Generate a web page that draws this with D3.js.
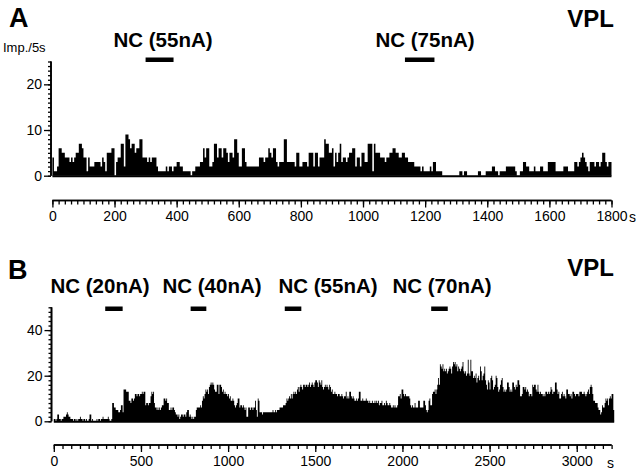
<!DOCTYPE html>
<html><head><meta charset="utf-8">
<script src="https://cdn.jsdelivr.net/npm/d3@7"></script>
<style>
html,body{margin:0;padding:0;background:#fff;}
svg{display:block;font-family:"Liberation Sans",Arial,sans-serif;}
</style></head>
<body><svg id="c" width="640" height="470"></svg>
<script>
// ---------- DATA ----------
const binA = 5;   // s per bin
const binB = 5;
// Panel A: impulses / 5 s, 0-1800 s (rows of 100 s)
const countsA = [
 4,1,1,2,6,6,5,5,4,4,4,3,4,3,4,5,5,7,7,6,
 4,4,1,4,2,2,2,3,3,3,3,2,4,3,1,5,5,5,6,6,
 0,3,4,4,7,7,2,9,9,8,6,7,7,5,6,6,8,8,4,4,
 4,3,4,3,4,4,4,2,1,1,1,1,1,2,1,2,2,1,2,2,
 3,3,2,2,1,1,1,1,1,0,1,1,2,2,2,3,3,6,4,6,
 6,2,2,3,7,7,4,6,6,4,6,6,5,3,5,5,4,8,8,5,
 2,2,6,6,3,2,2,2,2,2,2,2,2,4,4,4,3,4,4,6,
 5,4,6,6,3,2,3,3,3,8,8,3,3,3,3,3,2,5,5,2,
 2,3,3,3,2,5,5,5,2,5,5,2,4,4,4,8,7,7,5,5,
 6,2,5,3,5,7,3,4,4,3,4,5,5,6,6,2,4,4,2,5,
 5,3,3,7,7,7,1,7,5,5,5,4,4,4,3,4,4,5,5,6,
 6,5,5,4,4,5,5,4,4,3,3,3,3,2,2,2,2,1,2,1,
 1,1,1,2,1,3,3,1,1,1,1,0,0,0,0,0,0,0,0,0,
 0,0,1,1,0,1,1,0,0,0,0,0,0,0,1,1,0,0,0,1,
 1,1,1,2,2,1,1,0,1,1,1,1,2,2,2,2,2,2,1,0,
 0,1,1,3,3,2,2,1,1,1,2,1,1,1,2,2,1,1,1,3,
 3,3,3,3,1,1,1,1,1,2,2,2,1,1,1,1,3,3,2,3,
 4,5,4,3,2,1,3,3,3,2,3,3,2,3,5,5,3,2,3,3
];
// Panel B: impulses / 5 s, 0-3215 s (rows of 100 s)
const countsB = [
 1,1,0,1,3,3,1,1,0,1,1,2,2,2,3,4,3,2,2,1,
 1,1,0,1,1,0,1,0,1,1,2,1,1,0,1,1,0,1,0,0,
 1,3,3,0,1,0,0,0,0,1,0,1,1,0,1,1,2,1,1,1,
 1,1,2,1,0,0,1,8,8,6,6,5,5,5,4,4,5,7,7,4,
 14,14,14,13,13,13,9,9,8,10,10,9,10,12,12,11,12,12,11,12,
 12,13,12,13,13,7,8,8,7,8,8,11,13,12,13,8,6,6,5,6,
 5,6,5,6,7,7,10,10,9,10,8,8,5,5,6,5,6,6,5,4,
 3,3,2,3,1,2,3,3,2,3,3,2,4,5,5,2,3,2,1,2,
 1,2,2,5,6,6,6,6,7,6,9,11,10,12,14,13,14,12,15,16,
 17,16,17,16,14,13,13,16,16,12,16,16,15,13,14,12,13,12,12,11,
 12,10,11,9,9,10,9,7,6,7,8,10,10,6,7,7,6,7,6,5,
 6,2,2,6,6,5,6,6,5,6,6,9,5,2,10,9,4,4,4,3,
 4,4,4,4,4,4,4,4,4,4,4,5,4,4,5,4,5,5,5,6,
 6,6,6,7,7,7,8,10,9,10,11,10,12,10,12,13,12,13,12,14,
 15,13,15,16,15,14,16,16,15,16,16,15,16,17,15,16,17,16,15,17,
 18,18,17,15,18,17,16,18,15,14,15,16,15,16,15,14,16,15,13,14,
 12,12,13,12,12,11,12,12,11,11,12,11,10,11,11,13,10,11,10,13,
 13,11,10,11,10,9,9,10,9,10,13,13,9,9,10,9,9,9,10,9,
 9,8,9,8,8,9,8,8,9,8,9,8,9,7,8,8,9,7,7,8,
 7,9,8,7,7,8,7,6,6,7,6,7,6,6,7,11,11,12,10,14,
 14,12,11,12,11,11,11,11,10,7,6,7,6,6,8,6,6,6,9,9,
 6,6,6,6,9,9,7,5,4,5,9,10,7,7,12,13,13,14,12,14,
 16,19,16,25,24,23,25,22,23,22,23,21,22,23,24,23,21,24,26,25,
 26,24,25,22,24,23,22,23,24,26,22,21,22,20,21,27,21,20,27,22,
 22,19,20,19,21,17,19,20,18,24,22,18,20,21,24,18,16,14,18,17,
 14,19,20,18,14,15,16,20,19,15,13,14,16,18,19,15,13,14,13,14,
 17,17,15,13,14,13,17,17,15,14,16,15,18,18,16,11,11,12,15,15,
 14,15,13,14,13,11,12,12,11,16,15,16,16,14,13,16,13,12,13,12,
 12,11,12,11,13,13,12,13,12,13,15,14,12,13,13,17,17,14,12,13,
 10,10,12,13,11,12,11,10,14,14,12,12,11,12,10,13,13,12,11,12,
 12,12,11,13,13,13,12,12,13,12,11,12,13,14,12,15,16,15,12,9,
 9,8,8,8,6,5,5,3,4,7,6,6,8,10,9,10,7,10,11,10,
 12,12,5
];
// Drug application periods (s)
const ncLabelsA = ["NC (55nA)", "NC (75nA)"];
const ncStartA = [300, 1135];
const ncEndA   = [390, 1230];
const ncLabelsB = ["NC (20nA)", "NC (40nA)", "NC (55nA)", "NC (70nA)"];
const ncStartB = [295, 785, 1325, 2165];
const ncEndB   = [395, 875, 1420, 2260];
// Axis ticks
const xMajorA = [0,200,400,600,800,1000,1200,1400,1600,1800];
const yMajorA = [0,10,20];
const xMajorB = [0,500,1000,1500,2000,2500,3000];
const yMajorB = [0,20,40];

// ---------- DRAW ----------
const svg = d3.select("#c");
const FONT = "'Liberation Sans', Arial, sans-serif";

function panel(o){
  const g = svg.append("g");
  const x = d3.scaleLinear().domain(o.xDom).range(o.xRange);
  const y = d3.scaleLinear().domain(o.yDom).range(o.yRange);
  // histogram bars as one stepped area (bins of o.bin seconds)
  const pts = o.counts.map((d,i)=>({t:i*o.bin, v:d}));
  pts.push({t:o.counts.length*o.bin, v:o.counts[o.counts.length-1]});
  const area = d3.area().curve(d3.curveStepAfter)
    .x(d=>x(d.t)).y0(y(0)).y1(d=>y(d.v));
  g.append("path").datum(pts).attr("d",area).attr("fill","#000").attr("stroke","none");
  // baseline
  g.append("line").attr("x1", x(0)).attr("x2", x(o.counts.length*o.bin))
    .attr("y1", y(0)+0.5).attr("y2", y(0)+0.5).attr("stroke","#000").attr("stroke-width",2);
  // y axis
  const yMinor = d3.range(o.yDom[0], o.yDom[1]+0.001, o.yMinorStep);
  const ya = g.append("g").attr("transform",`translate(${o.yAxisX},0)`);
  ya.call(d3.axisLeft(y).tickValues(yMinor).tickSize(3).tickFormat(""));
  ya.call(g2=>g2.append("g").call(d3.axisLeft(y).tickValues(o.yMajor).tickSize(7).tickPadding(2).tickFormat(d3.format("d"))));
  ya.selectAll("path").attr("stroke","#000").attr("stroke-width",1.6);
  ya.selectAll("line").attr("stroke","#000").attr("stroke-width",1.3);
  ya.selectAll("text").attr("font-family",FONT).attr("font-size",14).attr("fill","#000");
  ya.selectAll(".domain").attr("d", `M-0,${o.yRange[0]}V${o.yRange[1]}`);
  // x axis
  const xa = g.append("g").attr("transform",`translate(0,${o.xAxisY})`);
  const xMinor = d3.range(o.xDom[0], o.xAxisEnd+0.001, o.xMinorStep);
  xa.call(d3.axisBottom(x).tickValues(xMinor).tickSize(4).tickFormat(""));
  xa.call(g2=>g2.append("g").call(d3.axisBottom(x).tickValues(o.xMajor).tickSize(7).tickPadding(4).tickFormat(d3.format("d"))));
  xa.selectAll(".domain").attr("d", `M${x(0)},0H${x(o.xAxisEnd)}`);
  xa.selectAll("path").attr("stroke","#000").attr("stroke-width",1.6);
  xa.selectAll("line").attr("stroke","#000").attr("stroke-width",1.3);
  xa.selectAll("text").attr("font-family",FONT).attr("font-size",14).attr("fill","#000");
  // NC bars
  g.append("g").selectAll("rect").data(o.ncStart).join("rect")
    .attr("x",(d)=>x(d)).attr("width",(d,i)=>x(o.ncEnd[i])-x(d))
    .attr("y",o.ncY).attr("height",4.5).attr("fill","#000");
  return {g,x,y};
}

const A = panel({counts:countsA, bin:binA, xDom:[0,1800], xRange:[52.4,611.5], yDom:[0,25], yRange:[175.7,61.5],
  yMajor:yMajorA, yMinorStep:1, yAxisX:51, xAxisY:200.5, xMajor:xMajorA, xMinorStep:20, xAxisEnd:1800,
  ncStart:ncStartA, ncEnd:ncEndA, ncY:57.5});
const B = panel({counts:countsB, bin:binB, xDom:[0,3200], xRange:[53.8,611.6], yDom:[0,50], yRange:[421.3,307.3],
  yMajor:yMajorB, yMinorStep:2, yAxisX:51.5, xAxisY:445, xMajor:xMajorB, xMinorStep:50, xAxisEnd:3200,
  ncStart:ncStartB, ncEnd:ncEndB, ncY:306.5});

function txt(s, x, y, size, weight, anchor){
  svg.append("text").attr("x",x).attr("y",y).text(s)
    .attr("font-family",FONT).attr("font-size",size).attr("font-weight",weight||"normal")
    .attr("text-anchor",anchor||"start").attr("fill","#000");
}
txt("A", 9, 27, 27, "bold");
txt("VPL", 614, 27, 24, "bold", "end");
txt("Imp./5s", 3, 52, 13);
txt(ncLabelsA[0], 163, 47, 20.5, "bold", "middle");
txt(ncLabelsA[1], 425, 47, 20.5, "bold", "middle");
txt("s", 629, 222, 14);
txt("B", 8, 279, 27, "bold");
txt("VPL", 614, 276, 24, "bold", "end");
[100, 212, 328, 442].forEach((cx,i)=>txt(ncLabelsB[i], cx, 293, 20.5, "bold", "middle"));
txt("s", 607, 468, 14);
</script></body></html>
